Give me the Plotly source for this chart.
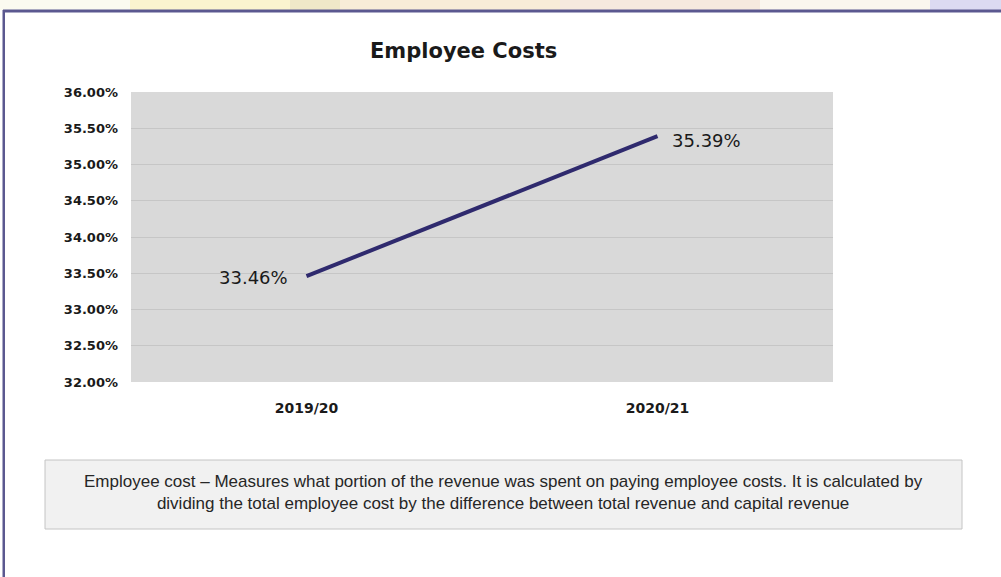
import plotly.graph_objects as go

categories = ["2019/20", "2020/21"]
values = [33.46, 35.39]
value_labels = ["33.46%", "35.39%"]
tick_vals = [32.0, 32.5, 33.0, 33.5, 34.0, 34.5, 35.0, 35.5, 36.0]
tick_text = ["32.00%", "32.50%", "33.00%", "33.50%", "34.00%", "34.50%", "35.00%", "35.50%", "36.00%"]
title_text = "Employee Costs"
note_text = ("Employee cost \u2013 Measures what portion of the revenue was spent on paying employee costs. It is calculated by<br>"
             "dividing the total employee cost by the difference between total revenue and capital revenue")

W, H = 1001, 577
L, R, T, B = 131, 833, 92, 382


def px(x):
    return (x - L) / (R - L)


def py(y):
    return (B - y) / (B - T)


fig = go.Figure()
fig.add_trace(go.Scatter(
    x=categories, y=values, mode="lines",
    line=dict(color="#2f2a6e", width=4),
    hoverinfo="skip", showlegend=False,
))

label_font = dict(family="DejaVu Sans", size=18, color="#1a1a1a")
annotations = [
    dict(x=categories[0], y=values[0], text=value_labels[0], showarrow=False,
         xanchor="right", yanchor="middle", xshift=-17, yshift=-1, font=label_font),
    dict(x=categories[1], y=values[1], text=value_labels[1], showarrow=False,
         xanchor="left", yanchor="middle", xshift=12, yshift=-4, font=label_font),
    dict(text=title_text, xref="paper", yref="paper", x=px(463), y=py(51),
         showarrow=False, xanchor="center", yanchor="middle",
         font=dict(family="DejaVu Sans", size=21, color="#1a1a1a", weight="bold")),
    dict(text=note_text, xref="paper", yref="paper", x=px(503), y=py(492),
         showarrow=False, xanchor="center", yanchor="middle", align="center",
         font=dict(family="Liberation Sans", size=17, color="#262626")),
]

shapes = []
# blurred background strip at top
strip = [(0, 130, "#fbfaf0"), (130, 290, "#fbf4cf"), (290, 340, "#efe8c8"),
         (340, 560, "#f8ecd8"), (560, 760, "#f6e9de"), (760, 930, "#faf6ee"),
         (930, 1001, "#dcdaf2")]
for x0, x1, c in strip:
    shapes.append(dict(type="rect", xref="paper", yref="paper", x0=px(x0), x1=px(x1),
                       y0=py(10), y1=py(0), fillcolor=c, line=dict(width=0), layer="below"))
# frame lines
shapes.append(dict(type="rect", xref="paper", yref="paper", x0=px(3), x1=px(1001),
                   y0=py(12.5), y1=py(9.5), fillcolor="#5b5890", line=dict(width=0)))
shapes.append(dict(type="rect", xref="paper", yref="paper", x0=px(2.5), x1=px(5),
                   y0=py(577), y1=py(10), fillcolor="#5b5890", line=dict(width=0)))
# note box
shapes.append(dict(type="rect", xref="paper", yref="paper", x0=px(45), x1=px(962),
                   y0=py(529), y1=py(460), fillcolor="#f1f1f1",
                   line=dict(color="#c4c4c4", width=1), layer="below"))

fig.update_layout(
    width=W, height=H,
    margin=dict(l=L, r=W - R, t=T, b=H - B),
    paper_bgcolor="white", plot_bgcolor="#d9d9d9",
    shapes=shapes,
    annotations=annotations,
    xaxis=dict(type="category", range=[-0.5, 1.5], showgrid=False, zeroline=False,
               showline=False, ticks="", ticklabelstandoff=16,
               tickfont=dict(family="DejaVu Sans", size=14, color="#1a1a1a", weight="bold")),
    yaxis=dict(range=[32, 36], tickvals=tick_vals, ticktext=tick_text,
               showgrid=True, gridcolor="#c6c6c6", gridwidth=1, zeroline=False,
               showline=False, ticks="", ticklabelstandoff=12,
               tickfont=dict(family="DejaVu Sans", size=13, color="#1a1a1a", weight="bold")),
)

fig.write_html("out.html", config={"displayModeBar": False},
               post_script="document.body.style.margin='0';")
